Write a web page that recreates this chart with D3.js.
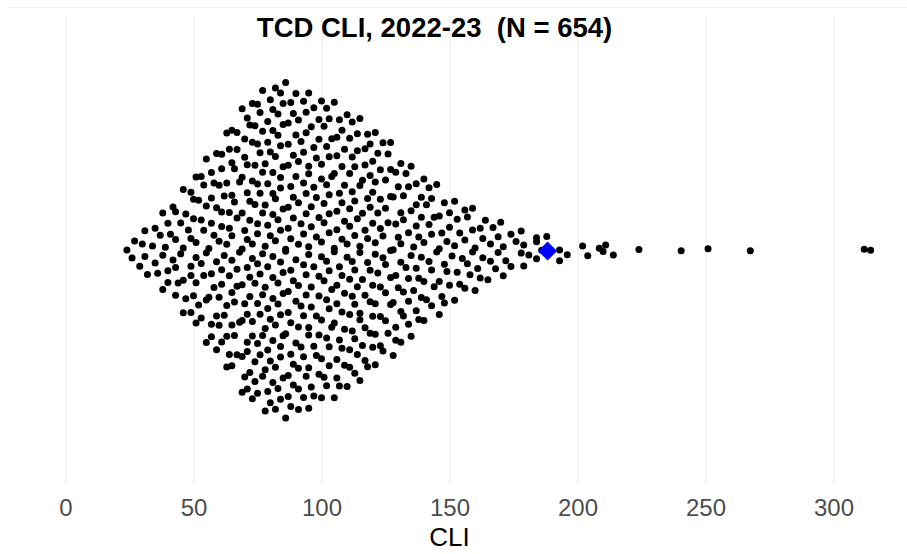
<!DOCTYPE html>
<html><head><meta charset="utf-8">
<script src="https://cdn.jsdelivr.net/npm/d3@7"></script>
<style>body{margin:0;background:#fff}svg{display:block}</style>
</head><body>
<svg id="chart" width="907" height="554"></svg>
<script>
// ---- data (frequency table) ----
const cliValue = [24,26,27,29,30,31,32,34,35,36,37,38,39,40,41,42,43,44,45,46,47,48,49,50,51,52,53,54,55,56,57,58,59,
60,61,62,63,64,65,66,67,68,69,70,71,72,73,74,75,76,77,78,79,80,81,82,83,84,85,86,87,88,89,90,91,92,93,94,95,96,97,98,99,
100,101,102,103,104,105,106,107,108,109,110,111,112,113,114,115,116,117,118,119,120,121,122,123,124,125,126,127,128,129,
130,131,132,133,134,135,136,137,138,139,140,141,142,143,144,145,146,147,148,149,150,151,152,153,154,155,156,157,158,159,
160,161,162,163,164,165,166,167,168,169,170,171,172,174,176,178,179,181,184,186,188,193,196,
202,204,208.5,210,211,214,224,240.5,251,267.5,312,314.5];
const cliCount = [1,1,1,1,1,2,1,1,2,1,1,3,1,3,1,2,4,1,2,4,2,1,5,3,5,2,4,3,5,2,6,3,5,
4,7,3,6,5,8,4,6,3,8,5,9,6,8,6,9,6,8,7,8,6,10,7,6,10,8,5,9,7,7,6,9,4,8,7,9,6,6,5,7,
8,5,7,9,4,6,8,5,7,6,4,8,6,7,5,7,4,6,5,6,6,7,3,6,4,5,3,6,4,5,
3,6,4,2,5,4,2,5,3,4,4,2,3,4,2,2,4,2,3,2,3,1,3,2,2,1,3,2,1,3,
2,1,2,2,1,1,2,1,1,2,1,2,1,2,1,2,2,1,3,1,1,2,1,
1,1,1,1,1,1,1,1,1,1,1,1];
const highlightValue = [188.3];
const xTicks = [0,50,100,150,200,250,300];
const titleText = "TCD CLI, 2022-23\u00A0\u00A0(N = 654)";
const xTitle = "CLI";

// ---- expand table ----
const values = [];
cliValue.forEach((v,i)=>{ for(let k=0;k<cliCount[i];k++) values.push(v); });
const n = values.length;

// ---- quasirandom offsets (vipor style) ----
const sorted = values.slice().sort((a,b)=>a-b);
const sd = d3.deviation(values);
const iqr = d3.quantile(sorted,0.75) - d3.quantile(sorted,0.25);
const bw = 0.9*Math.min(sd, iqr/1.34)*Math.pow(n,-0.2);
const dens = v => d3.sum(values, u => Math.exp(-0.5*((v-u)/bw)**2));
const dv = values.map(dens);
const maxD = d3.max(dv);
function vdc(i){ let r=0,f=0.5; while(i>0){ r+=f*(i%2); i=Math.floor(i/2); f/=2; } return r; }
const order = d3.range(n).sort((a,b)=>values[a]-values[b] || a-b);
const rank = new Array(n); order.forEach((idx,r)=>rank[idx]=r+1);
const width = 0.4;
const points = values.map((v,i)=>({v, off:(vdc(rank[i])-0.5)*2*width*dv[i]/maxD}));

// ---- scales ----
const svg = d3.select("#chart");
const x = d3.scaleLinear().domain([0,300]).range([65.5,833.5]);
const y = d3.scaleLinear().domain([-width,width]).range([419,81]);

// top faint line
svg.append("line").attr("x1",8).attr("x2",907).attr("y1",7.5).attr("y2",7.5)
  .attr("stroke","#f0f0f0").attr("stroke-width",1);

// gridlines
const grid = svg.append("g").attr("transform","translate(0,485)")
  .call(d3.axisBottom(x).tickValues(xTicks).tickSize(-470).tickFormat(""));
grid.select(".domain").remove();
grid.selectAll("line").attr("stroke","#ebebeb").attr("stroke-width",1.1);

// axis labels
const ax = svg.append("g").attr("transform","translate(0,493)")
  .call(d3.axisBottom(x).tickValues(xTicks).tickSize(0).tickPadding(6));
ax.select(".domain").remove();
ax.selectAll("text").attr("font-family","'Liberation Sans', Arial, sans-serif")
  .attr("font-size",24).attr("fill","#4d4d4d");

// points
svg.append("g").selectAll("circle").data(points).join("circle")
  .attr("cx",d=>x(d.v)).attr("cy",d=>y(d.off)).attr("r",3.5).attr("fill","#000");

// highlight diamond
svg.append("g").selectAll("path").data(highlightValue).join("path")
  .attr("transform",d=>`translate(${x(d)},${y(0)+1}) rotate(45)`)
  .attr("d",d3.symbol(d3.symbolSquare,180)).attr("fill","#0000ff");

// titles
svg.append("text").attr("x",434.5).attr("y",37).attr("text-anchor","middle")
  .attr("font-family","'Liberation Sans', Arial, sans-serif").attr("font-weight","bold")
  .attr("font-size",27.5).attr("fill","#000").text(titleText);
svg.append("text").attr("x",449.5).attr("y",546).attr("text-anchor","middle")
  .attr("font-family","'Liberation Sans', Arial, sans-serif")
  .attr("font-size",26).attr("fill","#000").text(xTitle);
</script>
</body></html>
